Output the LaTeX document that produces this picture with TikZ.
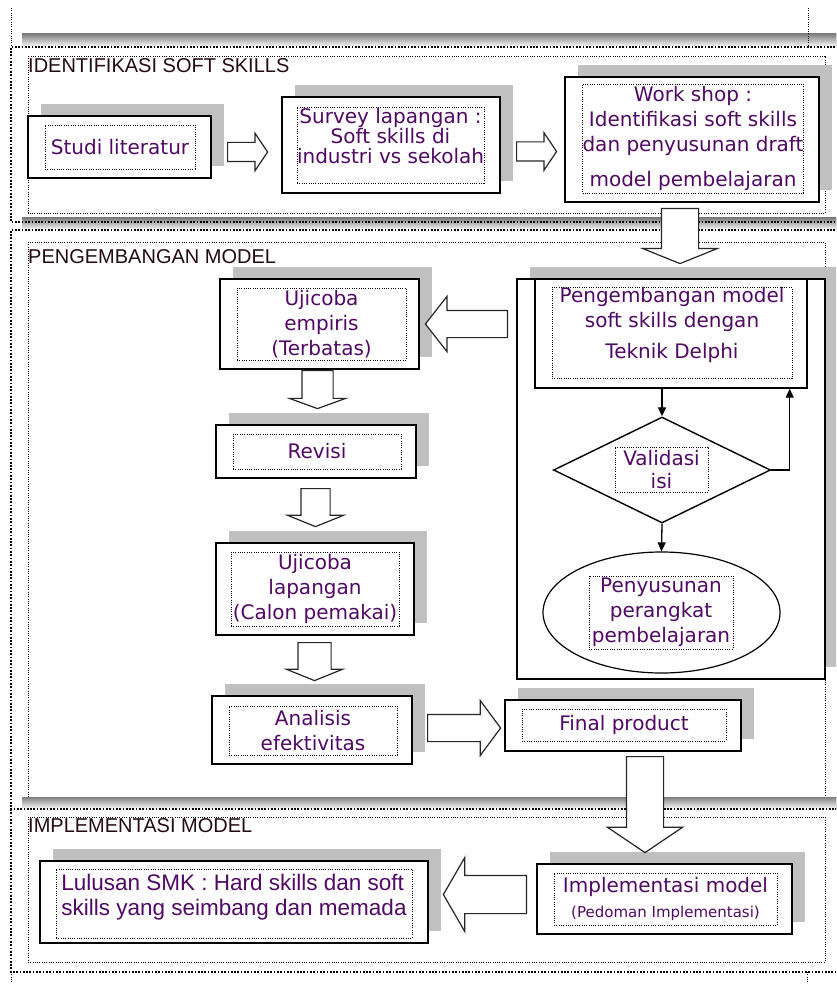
\documentclass[tikz,border=0pt]{standalone}
\usepackage{fontspec}
\setmainfont{DejaVu Sans}
\newfontfamily\headfont{Liberation Sans}
\usepackage{tikz}
\usetikzlibrary{shapes.geometric, shapes.arrows, arrows.meta, shadows, positioning}
\definecolor{shade}{RGB}{192,192,192}
\definecolor{ink}{RGB}{80,10,100}
\definecolor{headink}{RGB}{35,10,20}
\tikzstyle{block} = [rectangle, draw=black, line width=1.4pt, fill=white, inner sep=0pt,
    drop shadow={shadow xshift=13pt, shadow yshift=12pt, fill=shade, opacity=1}]
\tikzstyle{txtbox} = [rectangle, draw=black, line width=0.9pt, dash pattern=on 1pt off 1.3pt,
    inner sep=0pt, align=center, text=ink, font=\fontsize{20}{25}\selectfont]
\tikzstyle{bigarrow} = [single arrow, draw=black!85, fill=white, line width=1.2pt,
    inner xsep=0pt, minimum width=0pt, single arrow head indent=0pt, anchor=tail]

\begin{document}
\begin{tikzpicture}[x=1pt, y=-1pt]
  \tikzstyle{frame} = [line width=1.7pt, dash pattern=on 1.7pt off 1.6pt]
  \tikzstyle{inner} = [line width=0.9pt, dash pattern=on 1pt off 1.3pt]
  \tikzstyle{heading} = [anchor=west, inner sep=0pt, text=headink, font=\headfont\fontsize{20}{24}\selectfont]
  \tikzstyle{link} = [line width=1.3pt, -{Triangle[length=9pt, width=8pt]}]

  \useasboundingbox (0,0) rectangle (836,984);
  \clip (0,0) rectangle (836,984);
  \fill[white] (0,0) rectangle (836,984);

  % the three sections
  \draw[inner] (28,56) rectangle (825,213);
  \draw[inner] (28,242) rectangle (825,800);
  \draw[inner] (28,817) rectangle (825,962);
  \fill[shade] (22,34) rectangle (840,47);
  \fill[shade] (22,218) rectangle (840,230);
  \fill[shade] (22,797) rectangle (840,809);
  \draw[inner] (11,8) -- (11,47);
  \draw[inner] (808,8) -- (808,47);
  \draw[inner] (11,972) -- (11,984);
  \draw[inner] (807,972) -- (807,984);
  \draw[frame] (845,47) -- (11,47) -- (11,222) -- (845,222);
  \draw[frame] (845,230) -- (11,230) -- (11,809) -- (845,809);
  \draw[frame] (11,809) -- (11,972) -- (845,972);

  \node[heading] (head1) at (28,66) {IDENTIFIKASI SOFT SKILLS};
  \node[heading] (head2) at (28,257) {PENGEMBANGAN MODEL};
  \node[heading] (head3) at (28,826) {IMPLEMENTASI MODEL};

  % identifikasi
  \node[block, minimum width=183pt, minimum height=62pt] (studi) at (119.5,147) {};
  \node[txtbox, minimum width=150pt, minimum height=44pt] (studiText) at (120,147) {Studi literatur};
  \node[block, minimum width=218pt, minimum height=96pt] (survey) at (391,145) {};
  \node[txtbox, minimum width=185pt, minimum height=76pt, text depth=19pt,
        font=\fontsize{20}{20}\selectfont] (surveyText) at (390.5,145)
        {Survey lapangan :\\Soft skills di\\industri vs sekolah};
  \node[block, minimum width=254pt, minimum height=125pt] (workshop) at (692,139.5) {};
  \node[txtbox, minimum width=220pt, minimum height=109pt] (workshopText) at (693,138.5)
        {Work shop :\\Identifikasi soft skills\\dan penyusunan draft\\[10pt]model pembelajaran};

  \node[bigarrow, minimum height=40pt, inner ysep=9pt, single arrow head extend=9pt,
        single arrow tip angle=112] (arrA) at (227,152) {};
  \node[bigarrow, minimum height=40pt, inner ysep=9pt, single arrow head extend=9pt,
        single arrow tip angle=112] (arrB) at (516,151.5) {};

  % pengembangan
  \node[block, minimum width=308pt, minimum height=400pt] (delphiFrame) at (671,479) {};
  \node[rectangle, draw, line width=1.4pt, fill=white, inner sep=0pt,
        minimum width=272pt, minimum height=109pt] (delphi) at (671,333.5) {};
  \node[txtbox, minimum width=240pt, minimum height=90pt, text depth=20pt] (delphiText) at (672,333)
        {Pengembangan model\\soft skills dengan\\[6pt]Teknik Delphi};
  \node[diamond, draw, line width=1.4pt, inner sep=0pt,
        minimum width=217pt, minimum height=106pt] (valid) at (662,470) {};
  \node[txtbox, minimum width=93pt, minimum height=45pt, font=\fontsize{20}{23}\selectfont]
        (validText) at (661.5,469.5) {Validasi\\isi};
  \node[ellipse, draw, line width=1.2pt, inner sep=0pt,
        minimum width=237pt, minimum height=121pt] (kit) at (661.5,612.5) {};
  \node[txtbox, minimum width=144pt, minimum height=73pt] (kitText) at (661,612.5)
        {Penyusunan\\perangkat\\pembelajaran};

  \draw[link] (delphi.south -| valid.north) -- (valid.north);
  \draw[link] (valid.south) -- (kit.north);
  \draw[link] (valid.east) -| ([xshift=-18pt]delphi.south east);

  \node[block, minimum width=199pt, minimum height=90pt] (trial) at (319.5,324) {};
  \node[txtbox, minimum width=169pt, minimum height=72pt] (trialText) at (321.5,324)
        {Ujicoba\\empiris\\(Terbatas)};
  \node[block, minimum width=200pt, minimum height=53pt] (revisi) at (316,451.5) {};
  \node[txtbox, minimum width=168pt, minimum height=35pt] (revisiText) at (317,451.5) {Revisi};
  \node[block, minimum width=198pt, minimum height=92pt] (field) at (315,589) {};
  \node[txtbox, minimum width=168pt, minimum height=74pt] (fieldText) at (315,589)
        {Ujicoba\\lapangan\\(Calon pemakai)};
  \node[block, minimum width=200pt, minimum height=68pt] (analisis) at (312,730) {};
  \node[txtbox, minimum width=168pt, minimum height=49pt] (analisisText) at (313,730.5)
        {Analisis\\efektivitas};
  \node[block, minimum width=236pt, minimum height=51pt] (final) at (623,725.5) {};
  \node[txtbox, minimum width=204pt, minimum height=32pt] (finalText) at (624,725) {Final product};

  \node[bigarrow, rotate=180, minimum height=82pt, inner ysep=13pt, single arrow head extend=14pt,
        single arrow tip angle=104] (arrD) at (508,324) {};
  \node[bigarrow, rotate=-90, minimum height=38pt, inner ysep=15pt, single arrow head extend=12.5pt,
        single arrow tip angle=140] (arrE) at (317.5,370) {};
  \node[bigarrow, rotate=-90, minimum height=38pt, inner ysep=14pt, single arrow head extend=13.5pt,
        single arrow tip angle=136] (arrF) at (315.5,488) {};
  \node[bigarrow, rotate=-90, minimum height=38pt, inner ysep=16pt, single arrow head extend=11.5pt,
        single arrow tip angle=136] (arrG) at (314.5,642) {};
  \node[bigarrow, minimum height=73pt, inner ysep=13pt, single arrow head extend=14pt,
        single arrow tip angle=107] (arrH) at (427,728) {};

  % implementasi
  \node[block, minimum width=388pt, minimum height=82pt] (lulusan) at (234,902) {};
  \node[txtbox, minimum width=356pt, minimum height=69pt, align=left, text depth=18pt,
        font=\headfont\fontsize{22.5}{25}\selectfont] (lulusanText) at (234,903.5)
        {Lulusan SMK : Hard skills dan soft\\skills yang seimbang dan memada};
  \node[block, minimum width=255pt, minimum height=70pt] (impl) at (664.5,899) {};
  \node[txtbox, minimum width=223pt, minimum height=52pt] (implText) at (665.5,899)
        {Implementasi model\\{\fontsize{15}{18}\selectfont (Pedoman Implementasi)}};

  \node[bigarrow, rotate=-90, minimum height=55pt, inner ysep=18pt, single arrow head extend=19pt,
        single arrow tip angle=136] (arrC) at (680,208) {};
  \node[bigarrow, rotate=-90, minimum height=96pt, inner ysep=18pt, single arrow head extend=19pt,
        single arrow tip angle=112] (arrI) at (645,756) {};
  \node[bigarrow, rotate=180, minimum height=83pt, inner ysep=18.5pt, single arrow head extend=18pt,
        single arrow tip angle=120] (arrJ) at (527,894.5) {};
\end{tikzpicture}
\end{document}
